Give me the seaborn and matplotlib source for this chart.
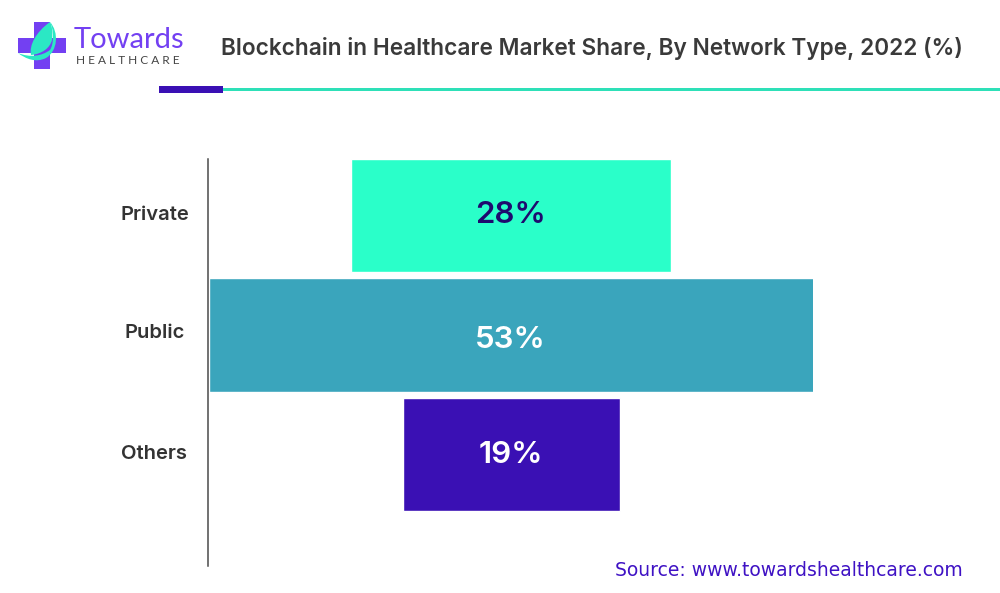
import matplotlib
matplotlib.use("Agg")
import matplotlib.pyplot as plt
from matplotlib.patches import PathPatch, Rectangle
from matplotlib.path import Path
from matplotlib.transforms import ScaledTranslation
import pandas as pd
import seaborn as sns

categories = ["Private", "Public", "Others"]
shares = [28, 53, 19]
bar_colors = ["#2AFFC9", "#3AA5BC", "#3A10B4"]
label_colors = ["#1E0A6E", "#FFFFFF", "#FFFFFF"]
label_shift_px = [0, -5, 0]
tick_shift_px = [2.5, 4, 2.5]

W, H = 1000, 593
sns.set_theme(style="white")
plt.rcParams["font.family"] = ["Inter", "DejaVu Sans"]
fig = plt.figure(figsize=(W / 100, H / 100), dpi=100, facecolor="white")

# pixel-coordinate overlay for header furniture
bg = fig.add_axes([0, 0, 1, 1])
bg.set_xlim(0, W); bg.set_ylim(H, 0); bg.axis("off")

# chart axes
ax = fig.add_axes([208 / W, 1 - 566 / H, (813 - 208) / W, (566 - 159) / H])
ax.patch.set_alpha(0)
df = pd.DataFrame({"category": categories, "share": shares})
peak = max(shares)
sns.barplot(data=df, y="category", x="share", hue="category", palette=bar_colors,
            order=categories, hue_order=categories, legend=False, width=0.945,
            saturation=1, ax=ax)
for container, share, tone, dy in zip(ax.containers, shares, label_colors, label_shift_px):
    bar = container[0]
    bar.set_x((peak - share) / 2 + 0.07)
    ax.annotate(f"{share}%", (peak / 2, bar.get_y() + bar.get_height() / 2),
                xytext=(0, dy * 0.72), textcoords="offset points", ha="center", va="center",
                color=tone, fontsize=22.5, fontweight="semibold")
ax.set_xlim(0, peak)
ax.set_ylim(2.93, -0.47)
ax.set_xlabel(""); ax.set_ylabel("")
ax.xaxis.set_visible(False)
sns.despine(ax=ax, top=True, right=True, bottom=True, left=False)
ax.spines["left"].set_color("#4A4A4A")
ax.spines["left"].set_linewidth(1.1)
ax.spines["left"].set_zorder(5)
ax.tick_params(axis="y", length=0, pad=38.6)
for lab, dy in zip(ax.get_yticklabels(), tick_shift_px):
    lab.set_ha("center")
    lab.set_fontsize(14.5)
    lab.set_fontweight("semibold")
    lab.set_color("#333333")
    lab.set_transform(lab.get_transform() + ScaledTranslation(0, dy * 0.72 / 72, fig.dpi_scale_trans))

# title
bg.text(221, 48, "Blockchain in Healthcare Market Share, By Network Type, 2022 (%)",
        fontsize=16.3, fontweight="semibold", color="#3A3A3A", ha="left", va="center")
# header rule
bg.add_patch(Rectangle((223, 88.3), 777, 2.6, color="#2EE0B8", lw=0))
bg.add_patch(Rectangle((159, 86), 64, 7, color="#3A10B4", lw=0))
# source
bg.text(615, 570.5, "Source: www.towardshealthcare.com", fontsize=13.5, color="#3F12C4",
        family=["DejaVu Sans"], ha="left", va="center")

# logo
purple = "#7340F2"
teal = "#2BE8C4"
bg.add_patch(Rectangle((34, 22), 16, 47, color=purple, lw=0))
bg.add_patch(Rectangle((18, 38), 48, 15, color=purple, lw=0))
M, C = Path.MOVETO, Path.CURVE4
leaf = Path([(50, 22), (36, 32), (29, 45), (31, 55), (42, 54), (50, 48), (52, 40),
             (53, 32), (52, 26), (50, 22)],
            [M, C, C, C, C, C, C, C, C, C])
bg.add_patch(PathPatch(leaf, fc=teal, lw=0))
swoosh = Path([(18, 53), (30, 58), (42, 56), (50, 50), (54, 44), (54, 30), (50, 22),
               (59, 32), (58, 51), (46, 58), (36, 63), (26, 59), (18, 53)],
              [M, C, C, C, C, C, C, C, C, C, C, C, C])
bg.add_patch(PathPatch(swoosh, fc=teal, lw=0))
bg.text(74, 40, "Towards", fontsize=21, color=purple, family=["Lato", "DejaVu Sans"],
        ha="left", va="center")
bg.text(76, 61, "H E A L T H C A R E", fontsize=8.6, color="#444444",
        family=["Lato", "DejaVu Sans"], ha="left", va="center")

fig.savefig("out.png", dpi=100)
